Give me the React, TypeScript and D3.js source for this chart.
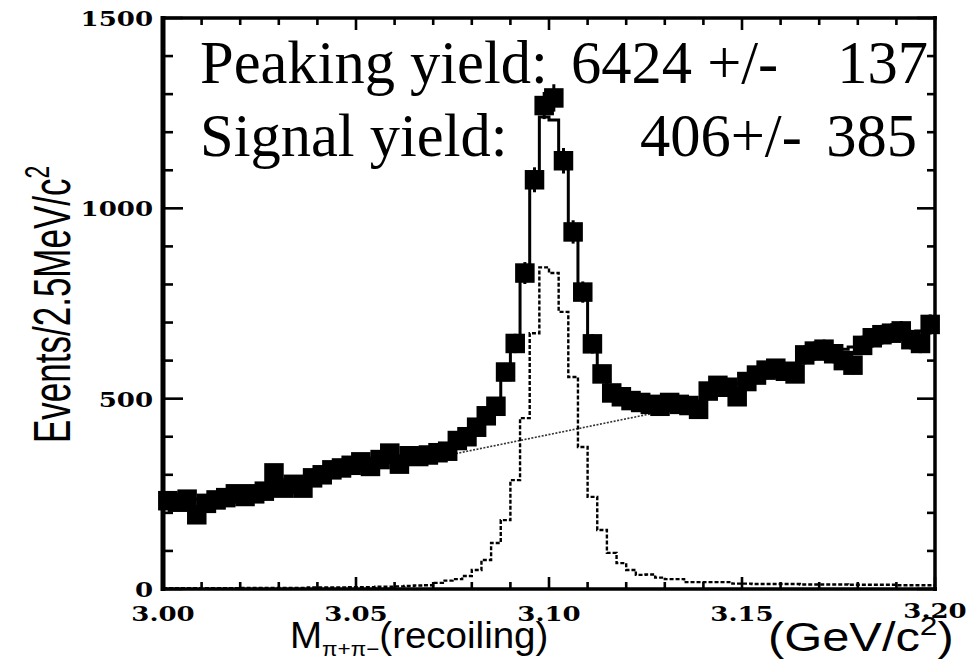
import React from 'react';
import * as d3 from 'd3';

const X_MIN = 3.0;
const X_MAX = 3.2;
const BIN_WIDTH = 0.0025;

// observed events per 2.5 MeV bin (80 bins from 3.000 to 3.200)
const dataCounts = [
  232, 228, 236, 195, 225, 234, 240, 250, 243, 250,
  257, 305, 265, 275, 265, 292, 300, 313, 318, 325,
  334, 322, 340, 357, 328, 350, 348, 352, 358, 362,
  390, 400, 425, 455, 480, 570, 645, 830, 1075, 1270,
  1290, 1125, 938, 780, 644, 565, 515, 505, 495, 490,
  485, 480, 490, 485, 482, 472, 520, 535, 530, 505,
  545, 562, 575, 580, 572, 565, 615, 625, 630, 618,
  600, 588, 640, 660, 668, 672, 678, 655, 645, 695,
];

// total fit (histogram)
const fitCounts = [
  224, 228, 232, 236, 240, 244, 248, 252, 257, 261,
  266, 270, 275, 279, 284, 289, 294, 299, 304, 309,
  314, 320, 326, 332, 338, 345, 352, 360, 369, 380,
  392, 408, 428, 456, 492, 550, 640, 815, 1060, 1240,
  1232, 1130, 950, 790, 660, 575, 530, 505, 492, 485,
  482, 481, 482, 484, 487, 491, 515, 525, 530, 540,
  550, 560, 570, 577, 583, 590, 600, 610, 618, 624,
  630, 636, 643, 650, 657, 663, 668, 673, 678, 684,
];

// peaking component (dashed histogram)
const peakCounts = [
  2, 2, 2, 2, 2, 2, 2, 2, 3, 3,
  3, 3, 3, 3, 3, 4, 4, 4, 4, 5,
  5, 5, 6, 6, 7, 8, 9, 10, 16, 22,
  26, 34, 50, 76, 121, 181, 286, 449, 672, 845,
  830, 728, 557, 373, 242, 155, 95, 68, 50, 37,
  38, 30, 26, 26, 18, 18, 18, 18, 18, 14,
  14, 13, 13, 13, 13, 13, 12, 12, 12, 12,
  12, 11, 11, 11, 11, 11, 10, 10, 10, 10,
];

// background (dotted), visible section
const bkgMass = [3.075, 3.133];
const bkgCounts = [354, 474];

const xTickValues = [3.0, 3.05, 3.1, 3.15, 3.2];
const xTickLabels = ['3.00', '3.05', '3.10', '3.15', '3.20'];
const yTickValues = [0, 500, 1000, 1500];
const yTickLabels = ['0', '500', '1000', '1500'];

const W = 976;
const H = 663;

export default function App() {
  const x = d3.scaleLinear().domain([X_MIN, X_MAX]).range([163, 935]);
  const y = d3.scaleLinear().domain([0, 1500]).range([589, 18]);

  const nBins = dataCounts.length;
  const edges = d3.range(nBins + 1).map((i) => X_MIN + i * BIN_WIDTH);
  const centers = d3.range(nBins).map((i) => X_MIN + (i + 0.5) * BIN_WIDTH);

  const stepLine = d3
    .line<[number, number]>()
    .x((d) => x(d[0]))
    .y((d) => y(d[1]))
    .curve(d3.curveStepAfter);

  const histPts = (vals: number[]): [number, number][] => {
    const pts: [number, number][] = vals.map((v, i) => [edges[i], v]);
    pts.push([edges[nBins], vals[nBins - 1]]);
    return pts;
  };

  const fitPath = stepLine(histPts(fitCounts)) || '';
  const peakPath = stepLine(histPts(peakCounts)) || '';
  const bkgPath =
    d3
      .line<number>()
      .x((d) => x(d))
      .y((_, i) => y(bkgCounts[i]))(bkgMass) || '';

  const minorX = d3.range(0, 21).map((i) => X_MIN + i * 0.01);
  const minorY = d3.range(0, 16).map((i) => i * 100);

  const SQ = 19.5;
  const tickFont = 'DejaVu Serif';
  const serif = 'Liberation Serif, Times New Roman, serif';
  const sans = 'Liberation Sans, Arial, sans-serif';
  const annSize = 60.5;

  return (
    <svg
      width={W}
      height={H}
      style={{ position: 'absolute', left: 0, top: 0, background: '#fff' }}
    >
      <rect x={0} y={0} width={W} height={H} fill="#fff" />

      {/* background dotted line */}
      <path d={bkgPath} fill="none" stroke="#333" strokeWidth={1.6} strokeDasharray="2 1.5" />

      {/* peaking component dashed histogram */}
      <path d={peakPath} fill="none" stroke="#000" strokeWidth={2.4} strokeDasharray="4 2" />

      {/* total fit histogram */}
      <path d={fitPath} fill="none" stroke="#000" strokeWidth={3} />

      {/* data points with error bars */}
      {centers.map((c, i) => {
        const v = dataCounts[i];
        const e = Math.sqrt(v);
        return (
          <g key={'d' + i}>
            <line x1={x(c)} x2={x(c)} y1={y(v - e)} y2={y(v + e)} stroke="#000" strokeWidth={3} />
            <rect x={x(c) - SQ / 2} y={y(v) - SQ / 2} width={SQ} height={SQ} fill="#000" />
          </g>
        );
      })}

      {/* frame */}
      <line x1={163} x2={163} y1={16} y2={591} stroke="#000" strokeWidth={5} />
      <line x1={161} x2={937} y1={589} y2={589} stroke="#000" strokeWidth={3.5} />
      <line x1={161} x2={937} y1={18} y2={18} stroke="#000" strokeWidth={3.5} />
      <line x1={935} x2={935} y1={16} y2={591} stroke="#000" strokeWidth={3.5} />

      {/* x ticks */}
      {minorX.map((t, i) => {
        const major = i % 5 === 0;
        const len = major ? 12 : 7;
        return (
          <g key={'xt' + i}>
            <line x1={x(t)} x2={x(t)} y1={589} y2={589 - len} stroke="#000" strokeWidth={2.6} />
            <line x1={x(t)} x2={x(t)} y1={18} y2={18 + len} stroke="#000" strokeWidth={2.6} />
          </g>
        );
      })}

      {/* y ticks */}
      {minorY.map((t, i) => {
        const major = i % 5 === 0;
        return (
          <g key={'yt' + i}>
            <line x1={163} x2={163 + (major ? 20 : 10)} y1={y(t)} y2={y(t)} stroke="#000" strokeWidth={2.6} />
            <line x1={935} x2={935 - (major ? 18 : 8)} y1={y(t)} y2={y(t)} stroke="#000" strokeWidth={2.6} />
          </g>
        );
      })}

      {/* y tick labels */}
      {yTickValues.map((t, i) => (
        <g key={'yl' + i} transform={`translate(153, ${y(t) + 1}) scale(1.27, 1)`}>
          <text
            x={0}
            y={0}
            textAnchor="end"
            dominantBaseline="central"
            fontFamily={tickFont}
            fontWeight="bold"
            fontSize={20.5}
            fill="#000"
          >
            {yTickLabels[i]}
          </text>
        </g>
      ))}

      {/* x tick labels */}
      {xTickValues.map((t, i) => (
        <g key={'xl' + i} transform={`translate(${x(t)}, ${i === 4 ? 611 : 614}) scale(1.27, 1)`}>
          <text
            x={0}
            y={0}
            textAnchor="middle"
            dominantBaseline="central"
            fontFamily={tickFont}
            fontWeight="bold"
            fontSize={20.5}
            fill="#000"
          >
            {xTickLabels[i]}
          </text>
        </g>
      ))}

      {/* x axis title */}
      <g transform="translate(290, 648) scale(1.07, 1)">
        <text x={0} y={0} fontFamily={sans} fontSize={36} fill="#000">
          M
          <tspan fontSize={21} dy={8}>π+π−</tspan>
          <tspan fontSize={36} dy={-8}>(recoiling)</tspan>
        </text>
      </g>
      <g transform="translate(768, 651) scale(1.22, 1)">
        <text x={0} y={0} fontFamily={sans} fontSize={40} fill="#000">
          (GeV/c
          <tspan fontSize={26} dy={-16}>2</tspan>
          <tspan fontSize={40} dy={16}>)</tspan>
        </text>
      </g>

      {/* y axis title */}
      <g transform="translate(70, 443) rotate(-90) scale(1, 1.5)">
        <text x={0} y={0} fontFamily={sans} fontSize={35} fill="#000">
          Events/2.5MeV/c
          <tspan fontSize={23} dy={-14}>2</tspan>
        </text>
      </g>

      {/* annotations */}
      <text x={200} y={83} fontFamily={serif} fontSize={annSize} fill="#000">
        Peaking yield:
      </text>
      <text x={571} y={83} fontFamily={serif} fontSize={annSize} fill="#000">
        6424 +/-
      </text>
      <text x={928} y={83} textAnchor="end" fontFamily={serif} fontSize={annSize} fill="#000">
        137
      </text>
      <text x={200} y={156} fontFamily={serif} fontSize={annSize} fill="#000">
        Signal yield:
      </text>
      <text x={640} y={156} fontFamily={serif} fontSize={annSize} fill="#000">
        406+/-
      </text>
      <text x={917} y={156} textAnchor="end" fontFamily={serif} fontSize={annSize} fill="#000">
        385
      </text>
    </svg>
  );
}
